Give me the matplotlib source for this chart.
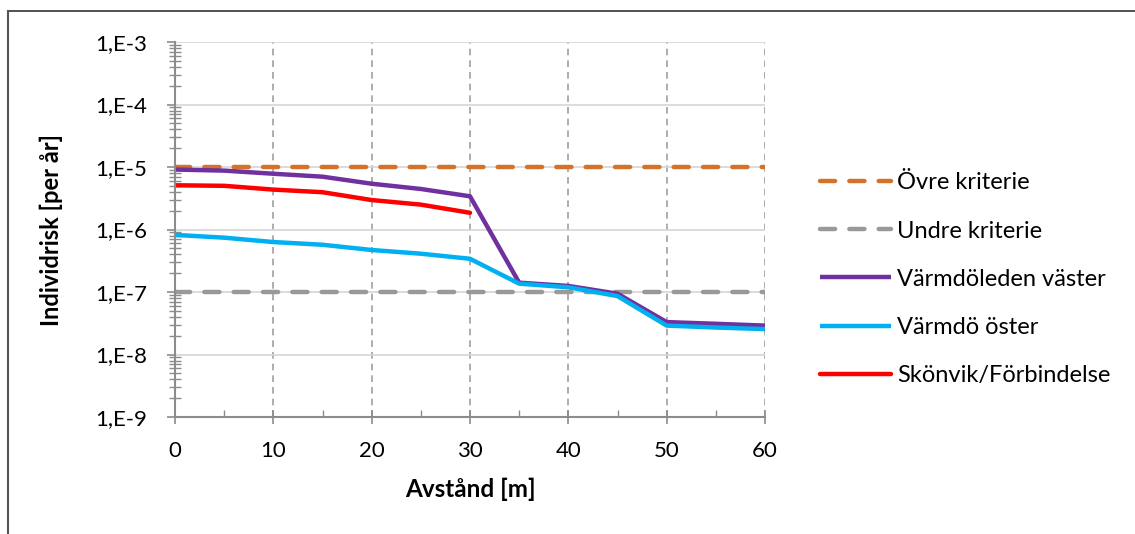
import matplotlib
matplotlib.use("Agg")
import matplotlib.pyplot as plt
from matplotlib.lines import Line2D
from matplotlib.ticker import FixedLocator, LogLocator, NullFormatter, MultipleLocator
import numpy as np

plt.rcParams['font.family'] = ['Lato', 'DejaVu Sans']

# Data
avstand = [0, 5, 10, 15, 20, 25, 30, 35, 40, 45, 50, 55, 60]
varmdoleden_vaster = [9.1e-6, 8.75e-6, 7.8e-6, 7.0e-6, 5.4e-6, 4.45e-6, 3.4e-6,
                      1.41e-7, 1.25e-7, 9.4e-8, 3.3e-8, 3.1e-8, 2.9e-8]
varmdo_oster = [8.2e-7, 7.4e-7, 6.3e-7, 5.7e-7, 4.7e-7, 4.1e-7, 3.4e-7,
                1.36e-7, 1.19e-7, 8.6e-8, 2.9e-8, 2.7e-8, 2.55e-8]
skonvik_x = [0, 5, 10, 15, 20, 25, 30]
skonvik = [5.1e-6, 5.0e-6, 4.35e-6, 3.95e-6, 2.96e-6, 2.5e-6, 1.85e-6]
ovre_kriterie = 1e-5
undre_kriterie = 1e-7

y_ticks = [1e-9, 1e-8, 1e-7, 1e-6, 1e-5, 1e-4, 1e-3]
y_labels = ['1,E-9', '1,E-8', '1,E-7', '1,E-6', '1,E-5', '1,E-4', '1,E-3']

fig = plt.figure(figsize=(11.35, 5.34), dpi=100)
ax = fig.add_axes([175 / 1135, 117 / 534, 590 / 1135, 375 / 534])

axis_col = '#8c8c8c'
lw = 3.2
fs = 16

ax.plot([0, 60], [ovre_kriterie] * 2, color='#D4712B', lw=lw,
        dashes=(3.4, 3.2), dash_capstyle='round', label='Övre kriterie', zorder=3)
ax.plot([0, 60], [undre_kriterie] * 2, color='#999999', lw=lw,
        dashes=(3.4, 3.2), dash_capstyle='round', label='Undre kriterie', zorder=3)
ax.plot(avstand, varmdoleden_vaster, color='#7030A0', lw=lw,
        solid_capstyle='butt', label='Värmdöleden väster', zorder=4)
ax.plot(avstand, varmdo_oster, color='#00B0F0', lw=lw,
        solid_capstyle='butt', label='Värmdö öster', zorder=5)
ax.plot(skonvik_x, skonvik, color='#FF0000', lw=lw,
        solid_capstyle='round', label='Skönvik/Förbindelse', zorder=6)

ax.set_yscale('log')
ax.set_ylim(1e-9, 1e-3)
ax.set_xlim(0, 60)

ax.yaxis.set_major_locator(FixedLocator(y_ticks))
ax.set_yticklabels(y_labels)
ax.yaxis.set_minor_locator(LogLocator(base=10, subs=np.arange(2, 10)))
ax.yaxis.set_minor_formatter(NullFormatter())
ax.xaxis.set_major_locator(MultipleLocator(10))
ax.xaxis.set_minor_locator(MultipleLocator(5))

ax.tick_params(axis='y', which='major', direction='out', length=6, width=1.2,
               color=axis_col, labelsize=fs, pad=14)
ax.tick_params(axis='y', which='minor', direction='inout', length=8, width=1.0,
               color=axis_col)
ax.tick_params(axis='x', which='major', direction='inout', length=10, width=1.2,
               color=axis_col, labelsize=fs, pad=12)
ax.tick_params(axis='x', which='minor', direction='in', length=5, width=1.0,
               color=axis_col)

ax.grid(True, axis='y', which='major', color='#d6d6d6', lw=1.2, ls='-')
ax.grid(True, axis='x', which='major', color='#a0a0a0', lw=1.2, ls=(0, (4, 3)))
ax.set_axisbelow(True)

for side in ['top', 'right']:
    ax.spines[side].set_visible(False)
for side in ['left', 'bottom']:
    ax.spines[side].set_color(axis_col)
    ax.spines[side].set_linewidth(1.5)
    ax.spines[side].set_zorder(7)

ax.set_xlabel('Avstånd [m]', fontsize=17.5, fontweight='bold', labelpad=12)
ax.set_ylabel('Individrisk [per år]', fontsize=17, fontweight='bold', labelpad=23)

fig.legend(loc='upper left', bbox_to_anchor=(811 / 1135, 1 - 163 / 534),
           frameon=False, fontsize=17, handlelength=3.0, handletextpad=0.25,
           labelspacing=1.15, borderaxespad=0)

# outer chart border (top and left edges)
fig.add_artist(Line2D([8 / 1135, 1], [1 - 11 / 534, 1 - 11 / 534],
                      transform=fig.transFigure, color='#333333', lw=1.2))
fig.add_artist(Line2D([8 / 1135, 8 / 1135], [0, 1 - 11 / 534],
                      transform=fig.transFigure, color='#555555', lw=1.5))

fig.savefig('out.png', dpi=100)
